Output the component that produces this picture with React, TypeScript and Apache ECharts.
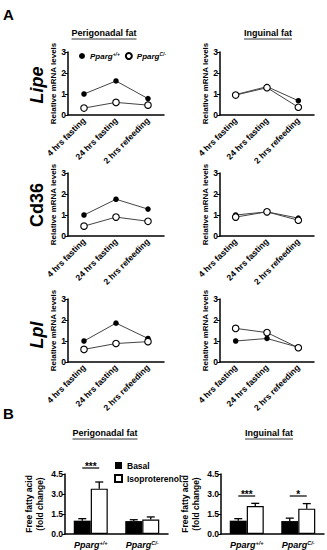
import React, { useEffect, useRef } from "react";
import * as echarts from "echarts";

// ---------- data ----------
const timepoints = ["4 hrs fasting", "24 hrs fasting", "2 hrs refeeding"];
const genes = ["Lipe", "Cd36", "Lpl"];
const depots = ["Perigonadal fat", "Inguinal fat"];
const genotypeLabels = ["Pparg+/+", "PpargC/-"];

const lipePeriWT = [1.0, 1.62, 0.78];
const lipePeriKO = [0.33, 0.6, 0.47];
const lipeIngWT = [0.97, 1.35, 0.68];
const lipeIngKO = [0.95, 1.3, 0.37];
const cd36PeriWT = [1.0, 1.75, 1.28];
const cd36PeriKO = [0.47, 0.9, 0.7];
const cd36IngWT = [1.0, 1.15, 0.85];
const cd36IngKO = [0.9, 1.15, 0.75];
const lplPeriWT = [1.0, 1.85, 1.12];
const lplPeriKO = [0.6, 0.88, 0.97];
const lplIngWT = [1.0, 1.12, 0.7];
const lplIngKO = [1.6, 1.4, 0.68];

const periBasal = [1.0, 0.97];
const periBasalErr = [0.15, 0.1];
const periIso = [3.4, 1.08];
const periIsoErr = [0.5, 0.2];
const ingBasal = [1.0, 0.97];
const ingBasalErr = [0.15, 0.22];
const ingIso = [2.1, 1.9];
const ingIsoErr = [0.2, 0.38];

const periSigLabels = ["***"];
const periSigLevels = [4.95];
const ingSigLabels = ["***", "*"];
const ingSigLevels = [2.85, 2.85];

const yTicksLine = { min: 0, max: 3, interval: 1 };
const yTicksBar = { min: 0, max: 4.5, interval: 1.5 };

// ---------- layout / style ----------
const FF = "'Liberation Sans', Arial, Helvetica, sans-serif";
const lineRows = [
  [lipePeriWT, lipePeriKO, lipeIngWT, lipeIngKO],
  [cd36PeriWT, cd36PeriKO, cd36IngWT, cd36IngKO],
  [lplPeriWT, lplPeriKO, lplIngWT, lplIngKO],
];
const rowTops = [52, 173, 299];
const colLefts = [68, 220];
const colWidths = [96, 94];
const rowLabelY = [85, 205, 335];
const BAR_W = 17;

function measure(text: string, font: string) {
  const c = document.createElement("canvas").getContext("2d");
  if (!c) return text.length * 5;
  c.font = font;
  return c.measureText(text).width;
}

const richGeno = (size: number) => ({
  i: { fontStyle: "italic", fontWeight: "bold", fontSize: size, fontFamily: FF, color: "#000" },
  s: {
    fontStyle: "italic",
    fontWeight: "bold",
    fontSize: size * 0.62,
    fontFamily: FF,
    color: "#000",
    verticalAlign: "top",
  },
});
const genoFmt = (name: string) => {
  const sup = name.replace("Pparg", "");
  return `{i|Pparg}{s|${sup}}`;
};

export default function App() {
  const ref = useRef<HTMLDivElement>(null);
  useEffect(() => {
    const chart = echarts.init(ref.current!, null, { renderer: "svg" });

    const grid: any[] = [];
    const xAxis: any[] = [];
    const yAxis: any[] = [];
    const series: any[] = [];

    lineRows.forEach((row, r) => {
      [0, 1].forEach((c) => {
        const gi = grid.length;
        grid.push({ left: colLefts[c], top: rowTops[r], width: colWidths[c], height: 63 });
        xAxis.push({
          gridIndex: gi,
          type: "category",
          data: timepoints,
          axisLine: { lineStyle: { color: "#000", width: 1.5 } },
          axisTick: { alignWithLabel: true, length: 3, lineStyle: { color: "#000", width: 1 } },
          axisLabel: {
            rotate: 45,
            interval: 0,
            fontSize: 8.5,
            fontWeight: "bold",
            color: "#000",
            fontFamily: FF,
            margin: 4,
          },
        });
        yAxis.push({
          gridIndex: gi,
          type: "value",
          ...yTicksLine,
          axisLine: { show: true, lineStyle: { color: "#000", width: 1.5 } },
          axisTick: { show: true, length: 3, lineStyle: { color: "#000", width: 1 } },
          splitLine: { show: false },
          axisLabel: { fontSize: 8.5, fontWeight: "bold", color: "#000", margin: 2, fontFamily: FF },
          name: "Relative mRNA levels",
          nameLocation: "middle",
          nameGap: 10,
          nameTextStyle: { fontSize: 8, fontWeight: "bold", color: "#000", fontFamily: FF },
        });
        series.push({
          type: "line",
          name: genotypeLabels[0],
          xAxisIndex: gi,
          yAxisIndex: gi,
          data: row[c * 2],
          symbol: "circle",
          symbolSize: 5.5,
          lineStyle: { color: "#444", width: 1 },
          itemStyle: { color: "#000" },
        });
        series.push({
          type: "line",
          name: genotypeLabels[1],
          xAxisIndex: gi,
          yAxisIndex: gi,
          data: row[c * 2 + 1],
          symbol: "circle",
          symbolSize: 6.5,
          lineStyle: { color: "#444", width: 1 },
          itemStyle: { color: "#fff", borderColor: "#000", borderWidth: 1.1 },
        });
      });
    });

    const barSets = [
      { basal: periBasal, basalErr: periBasalErr, iso: periIso, isoErr: periIsoErr, sigL: periSigLabels, sigV: periSigLevels, left: 65 },
      { basal: ingBasal, basalErr: ingBasalErr, iso: ingIso, isoErr: ingIsoErr, sigL: ingSigLabels, sigV: ingSigLevels, left: 221 },
    ];
    barSets.forEach((b) => {
      const gi = grid.length;
      grid.push({ left: b.left, top: 474, width: 103, height: 60 });
      xAxis.push({
        gridIndex: gi,
        type: "category",
        data: genotypeLabels,
        axisLine: { lineStyle: { color: "#000", width: 1.5 } },
        axisTick: { show: false },
        axisLabel: { margin: 6, interval: 0, formatter: genoFmt, rich: richGeno(9) },
      });
      yAxis.push({
        gridIndex: gi,
        type: "value",
        ...yTicksBar,
        axisLine: { show: true, lineStyle: { color: "#000", width: 1.5 } },
        axisTick: { show: true, length: 3, lineStyle: { color: "#000", width: 1 } },
        splitLine: { show: false },
        axisLabel: {
          fontSize: 8.5,
          fontWeight: "bold",
          color: "#000",
          margin: 2,
          fontFamily: FF,
          formatter: (v: number) => v.toFixed(1),
        },
        name: "Free fatty acid\n(fold change)",
        nameLocation: "middle",
        nameGap: 20,
        nameTextStyle: { fontSize: 8.5, fontWeight: "bold", color: "#000", fontFamily: FF, lineHeight: 11 },
      });
      series.push({
        type: "bar",
        name: "Basal",
        xAxisIndex: gi,
        yAxisIndex: gi,
        data: b.basal,
        barWidth: BAR_W,
        barGap: "0%",
        itemStyle: { color: "#000" },
      });
      series.push({
        type: "bar",
        name: "Isoproterenol",
        xAxisIndex: gi,
        yAxisIndex: gi,
        data: b.iso,
        barWidth: BAR_W,
        barGap: "0%",
        itemStyle: { color: "#fff", borderColor: "#000", borderWidth: 1.2 },
      });
      const errSeries = (means: number[], errs: number[], offset: number) => ({
        type: "custom",
        xAxisIndex: gi,
        yAxisIndex: gi,
        clip: false,
        z: 5,
        data: means.map((m, i) => [i, m, m + errs[i]]),
        encode: { x: 0, y: [1, 2] },
        renderItem: (_p: any, api: any) => {
          const c0 = api.coord([api.value(0), api.value(1)]);
          const c1 = api.coord([api.value(0), api.value(2)]);
          const x = c0[0] + offset;
          const st = { stroke: "#000", lineWidth: 1.3 };
          return {
            type: "group",
            children: [
              { type: "line", shape: { x1: x, y1: c0[1], x2: x, y2: c1[1] }, style: st },
              { type: "line", shape: { x1: x - 4, y1: c1[1], x2: x + 4, y2: c1[1] }, style: st },
            ],
          };
        },
      });
      series.push(errSeries(b.basal, b.basalErr, -BAR_W / 2));
      series.push(errSeries(b.iso, b.isoErr, BAR_W / 2));
      series.push({
        type: "custom",
        xAxisIndex: gi,
        yAxisIndex: gi,
        clip: false,
        z: 6,
        data: b.sigV.map((v, i) => [i, v]),
        encode: { x: 0, y: 1 },
        renderItem: (p: any, api: any) => {
          const c0 = api.coord([api.value(0), api.value(1)]);
          const x = c0[0];
          const y = c0[1];
          return {
            type: "group",
            children: [
              {
                type: "line",
                shape: { x1: x - BAR_W / 2, y1: y, x2: x + BAR_W / 2, y2: y },
                style: { stroke: "#000", lineWidth: 1.2 },
              },
              {
                type: "text",
                x,
                y: y + 3,
                style: {
                  text: b.sigL[p.dataIndex],
                  align: "center",
                  verticalAlign: "bottom",
                  fontSize: 10,
                  fontWeight: "bold",
                  fontFamily: FF,
                  fill: "#000",
                },
              },
            ],
          };
        },
      });
    });

    // titles, panel letters, gene labels
    const graphic: any[] = [];
    const TS = 9;
    const titleFont = `bold ${TS}px ${FF}`;
    const addTitle = (text: string, cx: number, cy: number) => {
      const w = measure(text, titleFont);
      graphic.push({
        type: "text",
        x: cx,
        y: cy,
        style: { text, align: "center", verticalAlign: "middle", fontSize: TS, fontWeight: "bold", fontFamily: FF, fill: "#000" },
      });
      graphic.push({
        type: "line",
        shape: { x1: cx - w / 2, y1: cy + 6, x2: cx + w / 2, y2: cy + 6 },
        style: { stroke: "#000", lineWidth: 0.8 },
      });
    };
    addTitle(depots[0], 104, 33);
    addTitle(depots[1], 268, 33);
    addTitle(depots[0], 105, 433);
    addTitle(depots[1], 269, 433);
    graphic.push({
      type: "text",
      x: 3,
      y: 7,
      style: { text: "A", fontSize: 15, fontWeight: "bold", fontFamily: FF, fill: "#000" },
    });
    graphic.push({
      type: "text",
      x: 3,
      y: 406,
      style: { text: "B", fontSize: 15, fontWeight: "bold", fontFamily: FF, fill: "#000" },
    });
    genes.forEach((g, i) => {
      graphic.push({
        type: "text",
        x: 37,
        y: rowLabelY[i],
        rotation: Math.PI / 2,
        style: {
          text: g,
          align: "center",
          verticalAlign: "middle",
          fontSize: 18,
          fontWeight: "bold",
          fontStyle: g === "Cd36" ? "normal" : "italic",
          fontFamily: FF,
          fill: "#000",
        },
      });
    });

    chart.setOption({
      animation: false,
      backgroundColor: "#fff",
      grid,
      xAxis,
      yAxis,
      series,
      graphic,
      legend: [
        {
          data: genotypeLabels,
          left: 74,
          top: 47,
          icon: "circle",
          itemWidth: 6,
          itemHeight: 6,
          itemGap: 5,
          formatter: genoFmt,
          textStyle: { rich: richGeno(8) },
          selectedMode: false,
        },
        {
          data: ["Basal", "Isoproterenol"],
          orient: "vertical",
          left: 109,
          top: 456,
          icon: "rect",
          itemWidth: 7,
          itemHeight: 7,
          itemGap: 4,
          textStyle: { fontSize: 8.5, fontWeight: "bold", color: "#000", fontFamily: FF },
          selectedMode: false,
        },
      ],
    });
    return () => chart.dispose();
  }, []);
  return (
    <div
      ref={ref}
      style={{ position: "fixed", left: 0, top: 0, width: 327, height: 550, background: "#fff" }}
    />
  );
}
